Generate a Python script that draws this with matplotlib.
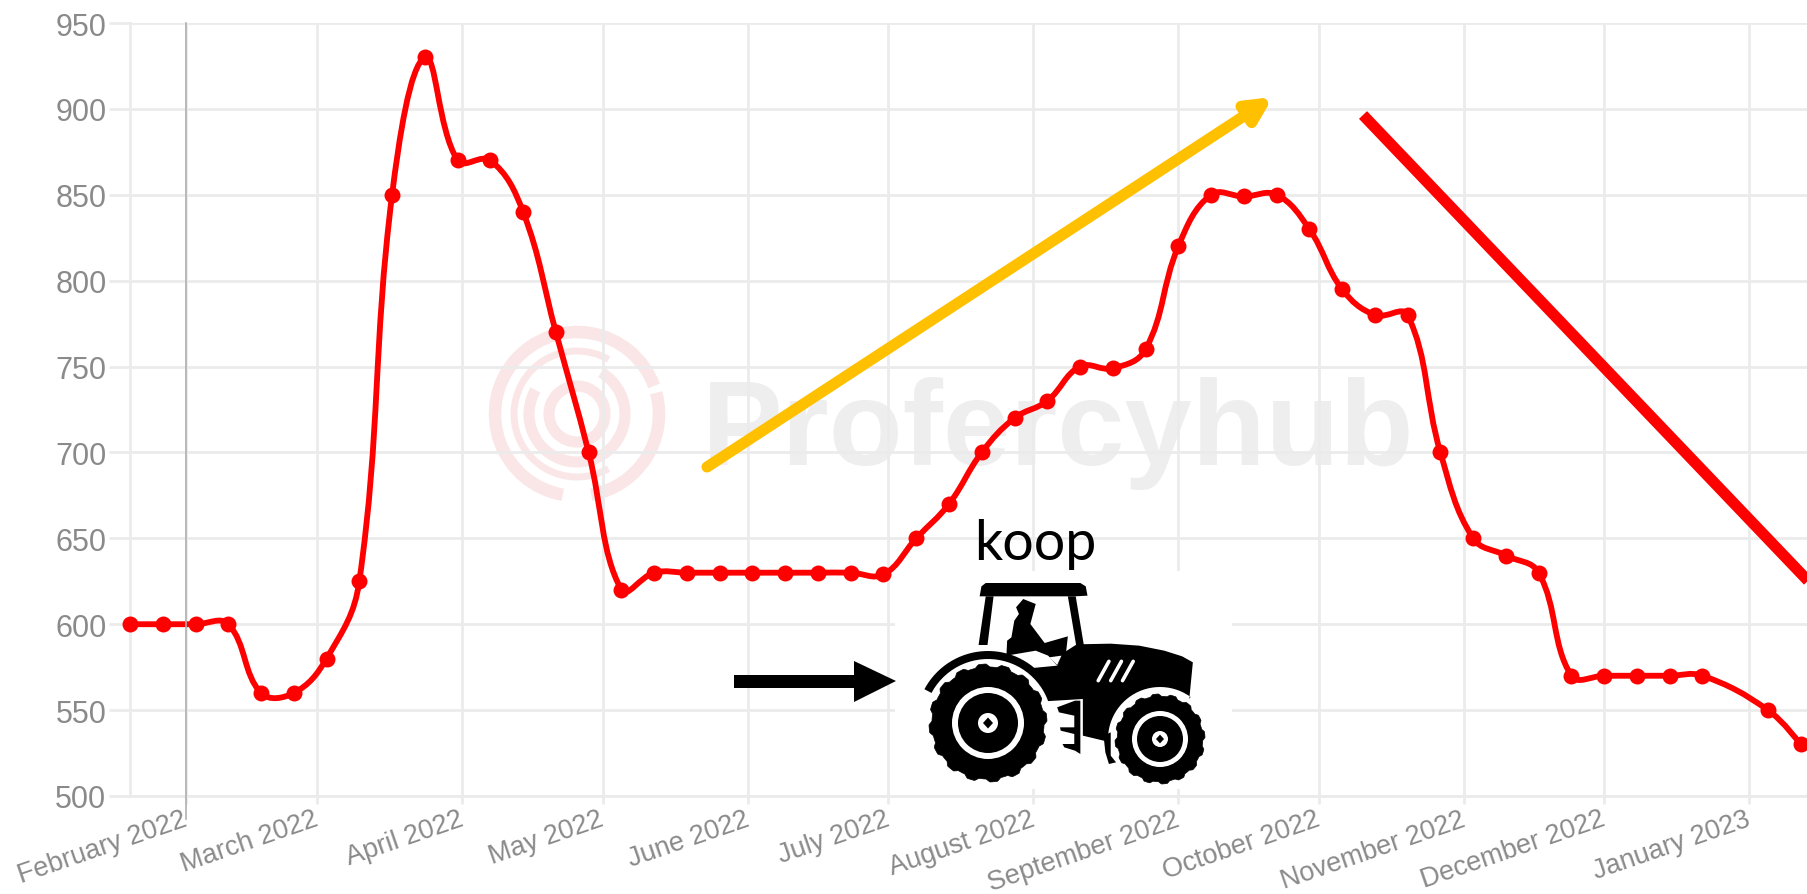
import numpy as np
import pandas as pd
import matplotlib
matplotlib.use("Agg")
import matplotlib.pyplot as plt
import matplotlib.dates as mdates
from matplotlib.path import Path
from matplotlib.patches import PathPatch, Polygon, Circle, Arc, Rectangle
from matplotlib.transforms import ScaledTranslation

W, H = 1808, 895

# weekly price series, one week has no quote (second last but one)
start_date = "2022-01-20"
prices = [600, 600, 600, 600, 560, 560, 580, 625, 850, 930, 870, 870, 840,
          770, 700, 620, 630, 630, 630, 630, 630, 630, 630, 629, 650, 670,
          700, 720, 730, 750, 749, 760, 820, 850, 849, 850, 830, 795, 780,
          780, 700, 650, 640, 630, 570, 570, 570, 570, 570, np.nan, 550, 530]
month_ticks = ["2022-02-01", "2022-03-01", "2022-04-01", "2022-05-01",
               "2022-06-01", "2022-07-01", "2022-08-01", "2022-09-01",
               "2022-10-01", "2022-11-01", "2022-12-01", "2023-01-01"]
month_labels = ["February 2022", "March 2022", "April 2022", "May 2022",
                "June 2022", "July 2022", "August 2022", "September 2022",
                "October 2022", "November 2022", "December 2022", "January 2023"]
y_ticks = [500, 550, 600, 650, 700, 750, 800, 850, 900, 950]

GREY = "#8a8a8a"
RED = "#ff0000"
GRID = "#ebebeb"


def pixelAxes(fig, zorder):
    # overlay axes that work in image pixels, y going down
    a = fig.add_axes([0, 0, 1, 1], zorder=zorder)
    a.set_xlim(0, W)
    a.set_ylim(H, 0)
    a.axis("off")
    a.patch.set_alpha(0)
    return a


def smoothPath(ax, x, y, tension=0.4):
    # same bezier construction as the web chart, done in pixel space
    pts = ax.transData.transform(np.column_stack([x, y]))
    n = len(pts)
    verts = [pts[0]]
    codes = [Path.MOVETO]
    cp_out = pts[0]
    for i in range(1, n):
        cur = pts[i]
        if i < n - 1:
            d01 = np.hypot(*(cur - pts[i - 1]))
            d12 = np.hypot(*(pts[i + 1] - cur))
            s = d01 / (d01 + d12)
            cp_in = cur - tension * s * (pts[i + 1] - pts[i - 1])
            cp_next = cur + tension * (1 - s) * (pts[i + 1] - pts[i - 1])
        else:
            cp_in = cur
            cp_next = cur
        verts += [cp_out, cp_in, cur]
        codes += [Path.CURVE4, Path.CURVE4, Path.CURVE4]
        cp_out = cp_next
    return Path(ax.transData.inverted().transform(np.array(verts)), codes)


def arcPts(cx, cy, r, a0, a1, n=30):
    ang = np.radians(np.linspace(a0, a1, n))
    return list(zip(cx + r * np.cos(ang), cy + r * np.sin(ang)))


def lugWheel(a, cx, cy, r, lugs, ring_out, ring_in, hub):
    ang = np.linspace(0, 2 * np.pi, lugs * 12, endpoint=False)
    rad = r * (1 - 0.05 * (1 + np.clip(2 * np.sin(lugs * ang), -1, 1)) / 2)
    a.add_patch(Polygon(np.column_stack([cx + rad * np.cos(ang), cy + rad * np.sin(ang)]),
                        closed=True, fc="black", ec="black", lw=0.5, zorder=6))
    a.add_patch(Circle((cx, cy), ring_out, fc="white", ec="none", zorder=7))
    a.add_patch(Circle((cx, cy), ring_in, fc="black", ec="none", zorder=8))
    a.add_patch(Circle((cx, cy), hub, fc="white", ec="none", zorder=9))
    a.add_patch(Polygon([(cx, cy - hub * 0.55), (cx + hub * 0.5, cy), (cx, cy + hub * 0.55),
                         (cx - hub * 0.5, cy)], closed=True, fc="black", ec="none", zorder=10))


def drawTractor(a):
    def z(points):
        return [(700 + px / 2.8, 500 + py / 3) for px, py in points]

    a.add_patch(Rectangle((895, 572), 337, 218, fc="white", ec="none", zorder=5))
    rear = (988, 724)
    front = (1160, 740)
    body = (arcPts(*rear, 72, -152, -50)
            + z([(1000, 500), (1020, 460), (1055, 436), (1150, 434), (1230, 440), (1300, 455),
                 (1350, 472), (1380, 490), (1370, 600)])
            + arcPts(*front, 52, -54, -183)
            + z([(1072, 710), (1072, 600)])
            + arcPts(*rear, 64, -20, -152))
    a.add_patch(Polygon(body, closed=True, fc="black", ec="none", zorder=6))
    shapes = [
        # roof
        [(783, 292), (788, 262), (800, 252), (1065, 252), (1080, 262), (1085, 290), (1050, 292), (820, 292)],
        # cab posts
        [(800, 292), (822, 292), (805, 438), (780, 438)],
        [(1030, 292), (1052, 292), (1075, 440), (1055, 450)],
        # driver
        [(885, 325), (905, 300), (940, 315), (925, 375), (965, 432), (1030, 412), (1025, 460), (1000, 500),
         (975, 470), (940, 455), (858, 470), (860, 425), (872, 415), (880, 365), (893, 345)],
        # rear hitch
        [(1000, 625), (1050, 605), (1065, 605), (1065, 765), (1050, 755), (1020, 745), (1015, 735), (1048, 735),
         (1048, 705), (1010, 695), (1008, 685), (1048, 685), (1048, 650), (1005, 640)],
        # front fender piece
        [(1130, 710), (1150, 700), (1150, 770), (1165, 790), (1145, 795), (1135, 760)],
    ]
    for s in shapes:
        a.add_patch(Polygon(z(s), closed=True, fc="black", ec="none", zorder=6))
    a.add_patch(Polygon(z([(978, 475), (1012, 470), (1000, 498)]), closed=True, fc="white", ec="none", zorder=7))
    # hood vents
    for x0 in [1140, 1175, 1208]:
        a.plot(*zip(*z([(x0 - 25, 545), (x0 + 5, 487)])), color="white", lw=2.6,
               solid_capstyle="round", zorder=7)
    lugWheel(a, *rear, 59, 16, 36, 30, 10)
    lugWheel(a, *front, 45, 16, 28, 23, 8)


fig = plt.figure(figsize=(W / 100, H / 100), dpi=100)
fig.patch.set_facecolor("white")

# watermark sits behind the chart
bg = pixelAxes(fig, 0)
for r, t1, t2, lw in [(82, 100, 340, 9), (82, 345, 80, 9), (63, 60, 300, 5), (48, 300, 210, 8), (28, 0, 360, 8)]:
    bg.add_patch(Arc((577, 415), 2 * r, 2 * r, theta1=t1, theta2=t2, color="#fae6e6", lw=lw))
bg.text(702, 465, "Profercyhub", family="Liberation Sans", weight="bold", fontsize=87,
        color="#eeeeee", va="baseline", ha="left")

ax = fig.add_axes([130 / W, 1 - 797 / H, (W - 130) / W, (797 - 24) / H], zorder=1)
ax.patch.set_alpha(0)

dates = pd.date_range(start_date, periods=len(prices), freq="7D")
series = pd.Series(prices, index=dates).dropna()
x = mdates.date2num(series.index)
y = series.values
ax.set_xlim(x[0], x[0] + (W - 130) / 4.68)
ax.set_ylim(500, 950)

ax.set_yticks(y_ticks)
ax.set_xticks(mdates.date2num(pd.to_datetime(month_ticks)))
ax.set_xticklabels(month_labels, rotation=19, ha="right", rotation_mode="anchor",
                   family="Liberation Sans", fontsize=19.5, color=GREY)
ax.tick_params(axis="y", labelsize=22, labelcolor=GREY, length=15, width=2, color=GRID, pad=2)
ax.tick_params(axis="x", length=6, width=2, color=GRID, pad=1)
for t in ax.get_yticklabels():
    t.set_family("Liberation Sans")
# labels end a little left of their tick
shift = ScaledTranslation(-4 / 100, 0, fig.dpi_scale_trans)
for t in ax.get_xticklabels():
    t.set_transform(t.get_transform() + shift)
ax.grid(True, color=GRID, lw=2)
ax.set_axisbelow(True)
for name, sp in ax.spines.items():
    sp.set_visible(name in ("left", "bottom"))
    sp.set_color(GRID)
    sp.set_linewidth(2)

ax.add_patch(PathPatch(smoothPath(ax, x, y), fc="none", ec=RED, lw=4.2, zorder=3))
ax.plot(x, y, "o", color=RED, ms=11.5, mew=0, zorder=4, clip_on=False)

# annotations drawn over the chart
fg = pixelAxes(fig, 2)
fg.plot([186, 186], [24, 820], color="#b0b0b0", lw=1.2, zorder=2)
drawTractor(fg)
fg.add_patch(Polygon([(734, 676), (854, 676), (854, 662), (896, 682), (854, 703), (854, 689), (734, 689)],
                     closed=True, fc="black", ec="none", zorder=6))
fg.annotate("", xy=(1273, 98), xytext=(707, 468),
            arrowprops=dict(arrowstyle="-|>,head_length=1.4,head_width=0.7", color="#ffc000", lw=8,
                            shrinkA=0, shrinkB=0))
fg.plot([1363, 1812], [116, 586], color=RED, lw=8, solid_capstyle="butt", zorder=4)
fg.text(1035, 560, "koop", family="Lato", fontsize=40, color="black", ha="center", va="baseline", zorder=6)

fig.savefig("out.png", dpi=100)
